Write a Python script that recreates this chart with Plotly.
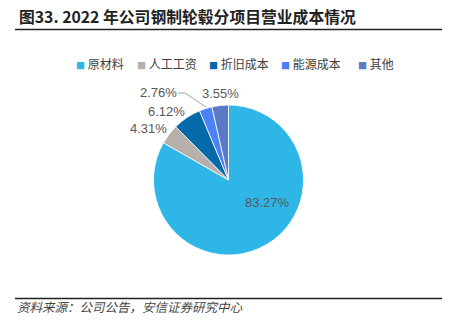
import plotly.graph_objects as go

categories = ["原材料", "人工工资", "折旧成本", "能源成本", "其他"]
values = [83.27, 4.31, 6.12, 2.76, 3.55]
colors = ["#2DB6E6", "#B6AFAC", "#066AAA", "#4C80F5", "#5A7AC8"]
labels_text = ["83.27%", "4.31%", "6.12%", "2.76%", "3.55%"]
# label centres (px from top-left of the page)
label_pos = [(267, 202), (148, 128), (166, 112), (158, 92), (220, 94)]

W, H = 449, 332
cx, cy, r = 228.5, 180, 75

def px(x):
    return x / W

def py(y):
    return 1 - y / H

fig = go.Figure()
fig.add_trace(go.Pie(
    labels=categories,
    values=values,
    textinfo="none",
    sort=False,
    direction="clockwise",
    rotation=0,
    marker=dict(colors=colors, line=dict(color="white", width=0.8)),
    domain=dict(x=[px(cx - r), px(cx + r)], y=[py(cy + r), py(cy - r)]),
    hoverinfo="skip",
    showlegend=False,
))

annotations = [
    dict(text="<b>图33. 2022 年公司钢制轮毂分项目营业成本情况</b>", x=px(17), y=py(17),
         xref="paper", yref="paper", xanchor="left", yanchor="middle", showarrow=False,
         font=dict(family="Noto Sans CJK SC", size=15.8, color="#222222")),
    dict(text="<i>资料来源：公司公告，安信证券研究中心</i>", x=px(15), y=py(306),
         xref="paper", yref="paper", xanchor="left", yanchor="middle", showarrow=False,
         font=dict(family="Noto Sans CJK SC", size=12.5, color="#444444")),
]

for txt, (lx, ly) in zip(labels_text, label_pos):
    annotations.append(dict(text=txt, x=px(lx), y=py(ly), xref="paper", yref="paper",
                            xanchor="center", yanchor="middle", showarrow=False,
                            font=dict(family="Liberation Sans, Arial", size=13, color="#595959")))

# legend built from text
legend_x = [76, 137, 209, 281, 358]
for name, col, lx in zip(categories, colors, legend_x):
    annotations.append(dict(
        text=f"<span style='color:{col};font-size:9px'>■</span> {name}",
        x=px(lx - 2), y=py(63), xref="paper", yref="paper", xanchor="left", yanchor="middle",
        showarrow=False, font=dict(family="Noto Sans CJK SC", size=12, color="#404040")))

fig.update_layout(
    width=W, height=H,
    margin=dict(l=0, r=0, t=0, b=0),
    paper_bgcolor="white",
    plot_bgcolor="white",
    showlegend=False,
    font=dict(family="Noto Sans CJK SC"),
    annotations=annotations,
    shapes=[
        dict(type="line", xref="paper", yref="paper", x0=px(15), x1=px(442),
             y0=py(29.5), y1=py(29.5), line=dict(color="#222222", width=1.6)),
        dict(type="line", xref="paper", yref="paper", x0=px(15), x1=px(442),
             y0=py(298.5), y1=py(298.5), line=dict(color="#222222", width=1.6)),
        dict(type="path", xref="paper", yref="paper",
             path=f"M {px(178)},{py(93)} L {px(185)},{py(93)} L {px(206)},{py(107)}",
             line=dict(color="#A6A6A6", width=1)),
    ],
)

fig.write_html("out.html")
